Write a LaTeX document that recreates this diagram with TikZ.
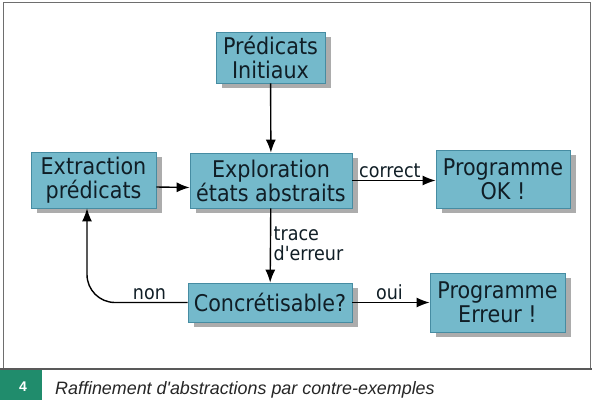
\documentclass[tikz,border=0pt]{standalone}
\usepackage{fontspec}
\setmainfont{DejaVu Sans}[FakeStretch=0.9]
% plain family (no TeX ligature mapping) so the apostrophe stays straight
\newfontfamily\lblfont{DejaVu Sans}[FakeStretch=0.9]
\newfontfamily\capfont{Liberation Sans}
\usetikzlibrary{arrows.meta,shadows}

\definecolor{boxfill}{RGB}{116,185,203}
\definecolor{boxline}{RGB}{70,140,162}
\definecolor{boxtext}{RGB}{16,30,38}
\definecolor{shadowgray}{RGB}{172,172,172}
\definecolor{framegray}{RGB}{110,110,110}
\definecolor{capgreen}{RGB}{32,140,108}

\tikzset{
  stepbox/.style={
    draw=boxline, line width=0.7pt, fill=boxfill, text=boxtext,
    align=center, inner sep=0pt,
    font=\fontsize{23}{24}\selectfont,
    drop shadow={shadow xshift=5.5pt, shadow yshift=-5pt,
                 fill=shadowgray, opacity=1}
  },
  flow/.style={line width=1.4pt, -{Latex[length=13pt,width=10pt]}},
  lbl/.style={font=\lblfont\fontsize{19.5}{20}\selectfont, text=boxtext, inner sep=2.5pt}
}

\begin{document}
\begin{tikzpicture}[x=1pt, y=-1pt]
  % page and frame
  \useasboundingbox (0,0) rectangle (592,400);
  \fill[white] (0,0) rectangle (592,400);
  \draw[framegray, line width=1pt] (3,369) -- (3,2) -- (590,2) -- (590,369);
  \draw[black!65, line width=2pt] (0,369) -- (592,369);

  % caption
  \fill[capgreen] (0,370) rectangle (42,400);
  \node[text=white, font=\capfont\bfseries\fontsize{14}{16}\selectfont]
    (fignum) at (23,387) {4};
  \node[anchor=base west, inner sep=0pt, text=black!85,
        font=\capfont\itshape\fontsize{17.9}{20}\selectfont]
    (caption) at (55,394) {Raffinement d'abstractions par contre-exemples};

  % boxes
  \node[stepbox, minimum width=109pt, minimum height=51pt]
    (init) at (270.5,57.5) {Prédicats\\Initiaux};
  \node[stepbox, minimum width=125pt, minimum height=56pt]
    (extr) at (93.5,180) {Extraction\\prédicats};
  \node[stepbox, minimum width=162pt, minimum height=55pt]
    (expl) at (271,180.5) {Exploration\\états abstraits};
  \node[stepbox, minimum width=134pt, minimum height=58pt]
    (ok) at (503,179) {Programme\\OK !};
  \node[stepbox, minimum width=164pt, minimum height=39pt]
    (conc) at (270,302.5) {Concrétisable?};
  \node[stepbox, minimum width=135pt, minimum height=59pt]
    (err) at (497.5,302.5) {Programme\\Erreur !};

  % connectors
  \draw[flow] (init) -- (expl);
  \draw[flow] ([yshift=-7pt]extr.east) -- ([yshift=-7pt]expl.west);
  \draw[flow] (expl.east) -- node[lbl, above, pos=0.45] (lcorrect) {correct} (expl.east -| ok.west);
  \draw[flow] (expl) -- node[lbl, right, align=left, pos=0.48] (ltrace) {trace\\d'erreur} (conc);
  \draw[flow] (conc.east) -- node[lbl, above, pos=0.48] (loui) {oui} (conc.east -| err.west);
  \coordinate (back) at ([xshift=-6.5pt]extr.south);
  \draw[flow, rounded corners=28pt] (conc.west) -| node[lbl, above, pos=0.19] (lnon) {non} (back);
\end{tikzpicture}
\end{document}
